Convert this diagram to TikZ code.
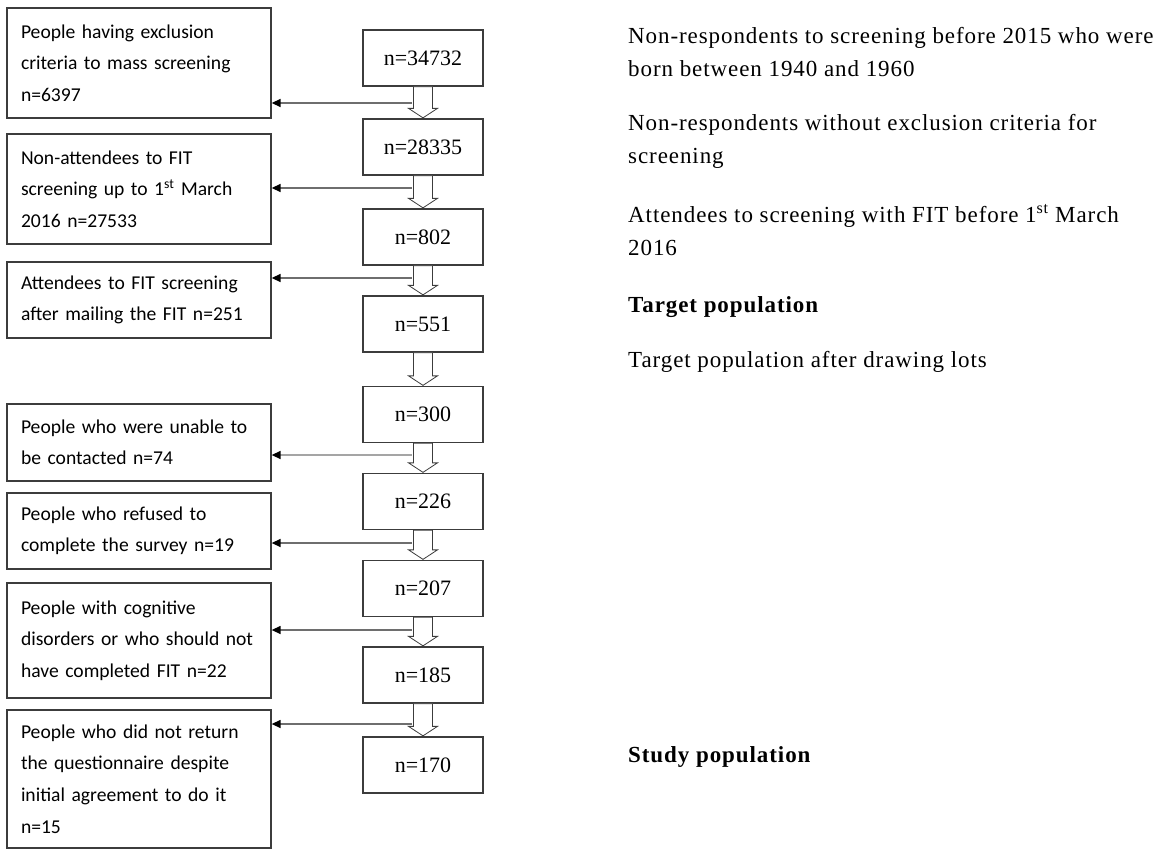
\documentclass[tikz,border=0pt]{standalone}
\usepackage{fontspec}
\setmainfont{Liberation Serif}
\newfontfamily\calfont[WordSpace=0.85]{Carlito}
\newfontfamily\sidefont[LetterSpace=4]{Liberation Serif}
\usetikzlibrary{calc,arrows.meta}
\definecolor{boxline}{RGB}{60,60,60}
\definecolor{arrline}{RGB}{110,110,110}
\definecolor{arrlight}{RGB}{165,165,165}
\tikzset{
  x=1pt,y=-1pt,
  leftbox/.style={draw=boxline,line width=1.3pt,fill=white,text width=236pt,inner xsep=14pt,inner ysep=0pt,
    align=left,font=\calfont\fontsize{19.6}{31.5}\selectfont},
  countbox/.style={draw=boxline,line width=1.3pt,minimum width=120pt,minimum height=56pt,inner sep=0pt,
    font=\fontsize{22}{26}\selectfont},
  sidetext/.style={anchor=base west,align=left,inner sep=0pt,font=\sidefont\fontsize{23}{32.5}\selectfont},
  sidebold/.style={sidetext,font=\sidefont\bfseries\fontsize{23}{32.5}\selectfont},
  sidearrow/.style={draw=arrline,line width=1.4pt,-{Triangle[length=9pt,width=8pt,fill=black,color=black]}},
  hollow/.style={draw=boxline,line width=0.8pt,fill=white},
}
\begin{document}
\begin{tikzpicture}
\useasboundingbox (0,0) rectangle (1167,852);
% left boxes
\node[leftbox,minimum height=110pt] (L1) at (139,63) {People having exclusion\\criteria to mass screening\\n=6397};
\node[leftbox,minimum height=110pt] (L2) at (139,189) {Non-attendees to FIT\\screening up to 1\textsuperscript{st} March\\2016 n=27533};
\node[leftbox,minimum height=76pt] (L3) at (139,300) {Attendees to FIT screening\\after mailing the FIT n=251};
\node[leftbox,minimum height=77pt] (L4) at (139,442.5) {People who were unable to\\be contacted n=74};
\node[leftbox,minimum height=76pt] (L5) at (139,531) {People who refused to\\complete the survey n=19};
\node[leftbox,minimum height=115pt] (L6) at (139,640.5) {People with cognitive\\disorders or who should not\\have completed FIT n=22};
\node[leftbox,minimum height=138pt] (L7) at (139,779) {People who did not return\\the questionnaire despite\\initial agreement to do it\\n=15};
% count boxes
\node[countbox] (C1) at (423,58) {n=34732};
\node[countbox] (C2) at (423,147) {n=28335};
\node[countbox] (C3) at (423,237) {n=802};
\node[countbox] (C4) at (423,324) {n=551};
\node[countbox] (C5) at (423,414.5) {n=300};
\node[countbox] (C6) at (423,501.5) {n=226};
\node[countbox] (C7) at (423,588.5) {n=207};
\node[countbox] (C8) at (423,675) {n=185};
\node[countbox] (C9) at (423,765) {n=170};
% hollow arrows
\foreach \a/\b in {C1/C2,C2/C3,C3/C4,C4/C5,C5/C6,C6/C7,C7/C8,C8/C9}{
  \draw[hollow] ($(\a.south)+(-9.5,0)$) -- ($(\b.north)+(-9.5,-10)$) -- ($(\b.north)+(-14.5,-10)$)
    -- ($(\b.north)+(0,-0.5)$) -- ($(\b.north)+(14.5,-10)$) -- ($(\b.north)+(9.5,-10)$)
    -- ($(\a.south)+(9.5,0)$) -- cycle;
}
% side arrows
\coordinate (s1) at (412,103);
\coordinate (s2) at (412,188);
\coordinate (s3) at (412,278);
\coordinate (s4) at (412,455);
\coordinate (s5) at (412,543);
\coordinate (s6) at (412,630);
\coordinate (s7) at (412,724);
\draw[sidearrow] (s1) -- (s1 -| L1.east);
\draw[sidearrow] (s2) -- (s2 -| L2.east);
\draw[sidearrow] (s3) -- (s3 -| L3.east);
\draw[sidearrow,draw=arrlight] (s4) -- (s4 -| L4.east);
\draw[sidearrow] (s5) -- (s5 -| L5.east);
\draw[sidearrow] (s6) -- (s6 -| L6.east);
\draw[sidearrow] (s7) -- (s7 -| L7.east);
% right texts (base anchor = last line baseline)
\node[sidetext] (R1) at (628,76) {Non-respondents to screening before 2015 who were\\born between 1940 and 1960};
\node[sidetext] (R2) at (628,163) {Non-respondents without exclusion criteria for\\screening};
\node[sidetext] (R3) at (628,255) {Attendees to screening with FIT before 1\textsuperscript{st} March\\2016};
\node[sidebold] (R4) at (628,312) {Target population};
\node[sidetext] (R5) at (628,367) {Target population after drawing lots};
\node[sidebold] (R6) at (628,762) {Study population};
\end{tikzpicture}
\end{document}
